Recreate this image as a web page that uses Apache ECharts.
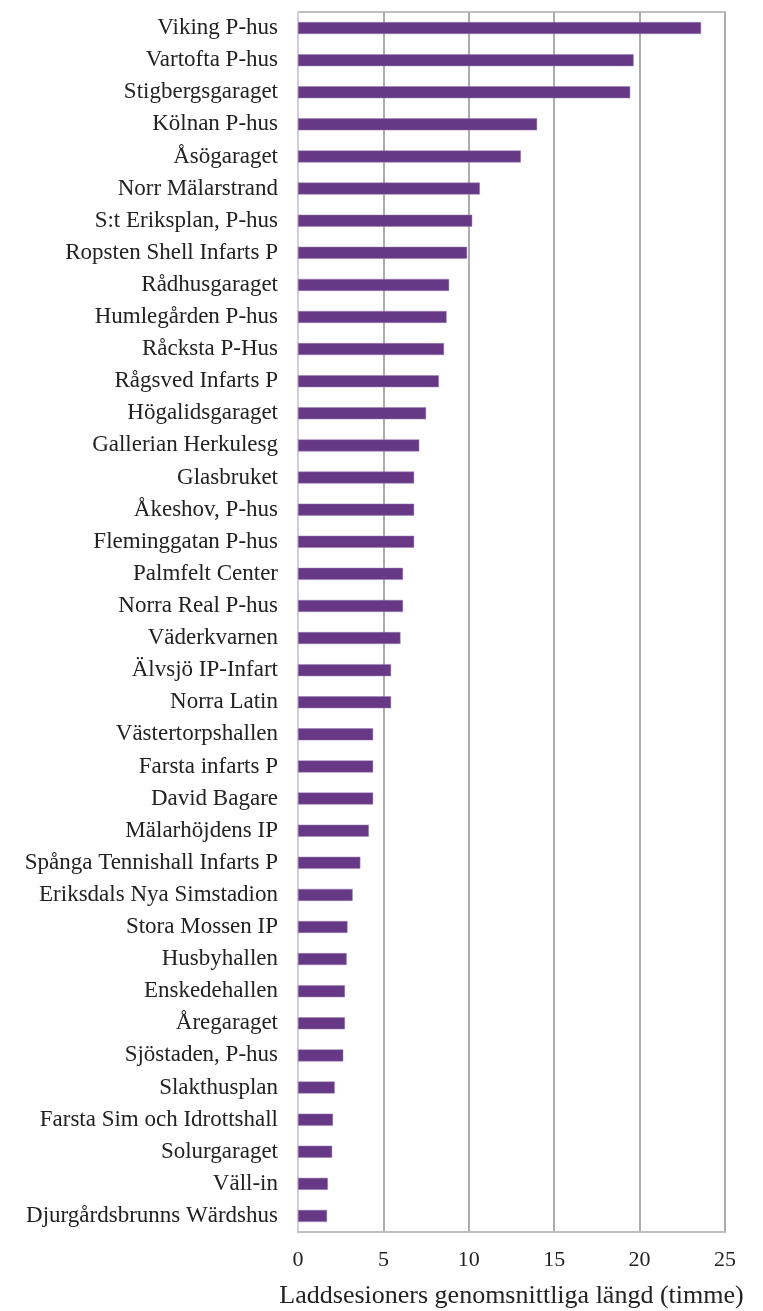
<!DOCTYPE html>
<html>
<head>
<meta charset="utf-8">
<script src="https://cdn.jsdelivr.net/npm/echarts@6/dist/echarts.min.js"></script>
<style>
  html, body { margin: 0; padding: 0; background: #fff; }
  #chart-main { width: 763px; height: 1311px; }
</style>
</head>
<body>
<div id="chart-main"></div>
<script>
// kategorier, uppifrån och ned
const places = [
  'Viking P-hus', 'Vartofta P-hus', 'Stigbergsgaraget', 'Kölnan P-hus', 'Åsögaraget',
  'Norr Mälarstrand', 'S:t Eriksplan, P-hus', 'Ropsten Shell Infarts P', 'Rådhusgaraget',
  'Humlegården P-hus', 'Råcksta P-Hus', 'Rågsved Infarts P', 'Högalidsgaraget',
  'Gallerian Herkulesg', 'Glasbruket', 'Åkeshov, P-hus', 'Fleminggatan P-hus',
  'Palmfelt Center', 'Norra Real P-hus', 'Väderkvarnen', 'Älvsjö IP-Infart', 'Norra Latin',
  'Västertorpshallen', 'Farsta infarts P', 'David Bagare', 'Mälarhöjdens IP',
  'Spånga Tennishall Infarts P', 'Eriksdals Nya Simstadion', 'Stora Mossen IP',
  'Husbyhallen', 'Enskedehallen', 'Åregaraget', 'Sjöstaden, P-hus', 'Slakthusplan',
  'Farsta Sim och Idrottshall', 'Solurgaraget', 'Väll-in', 'Djurgårdsbrunns Wärdshus'
];
// genomsnittlig längd (timme)
const hours = [
  23.6, 19.65, 19.45, 14.0, 13.05,
  10.65, 10.2, 9.9, 8.85,
  8.7, 8.55, 8.25, 7.5,
  7.1, 6.8, 6.8, 6.8,
  6.15, 6.15, 6.0, 5.45, 5.45,
  4.4, 4.4, 4.4, 4.15,
  3.65, 3.2, 2.9,
  2.85, 2.75, 2.75, 2.65, 2.15,
  2.05, 2.0, 1.75, 1.7
];
const xTicks = [0, 5, 10, 15, 20, 25];
const axisTitle = 'Laddsesioners genomsnittliga längd (timme)';

const serif = '"Liberation Serif", "Times New Roman", serif';
let myChart = echarts.init(document.getElementById('chart-main'));
let option = {
  backgroundColor: '#fff',
  animation: false,
  grid: {
    left: 298,
    right: 38,
    top: 12,
    bottom: 79,
    outerBoundsMode: 'none',
    containLabel: false,
    show: true,
    borderColor: '#c0c0c0',
    borderWidth: 2
  },
  xAxis: {
    type: 'value',
    min: xTicks[0],
    max: xTicks[xTicks.length - 1],
    interval: 5,
    name: axisTitle,
    nameLocation: 'middle',
    nameGap: 51,
    nameTextStyle: { fontFamily: serif, fontSize: 26, color: '#222' },
    axisLine: { show: true, lineStyle: { color: '#c0c0c0', width: 2 } },
    axisTick: { show: false },
    axisLabel: { fontFamily: serif, fontSize: 22, color: '#222', margin: 17 },
    splitLine: { show: true, lineStyle: { color: '#acacac', width: 2 } }
  },
  yAxis: {
    type: 'category',
    data: places,
    inverse: true,
    axisLine: { show: true, lineStyle: { color: '#d6cbe2', width: 2 } },
    axisTick: { show: false },
    axisLabel: { fontFamily: serif, fontSize: 23, color: '#222', margin: 20, interval: 0 },
    splitLine: { show: false }
  },
  series: [
    {
      type: 'bar',
      data: hours,
      barWidth: 12,
      itemStyle: { color: '#673886', borderColor: '#9a80b0', borderWidth: 0.5 }
    }
  ]
};
myChart.setOption(option);
</script>
</body>
</html>
